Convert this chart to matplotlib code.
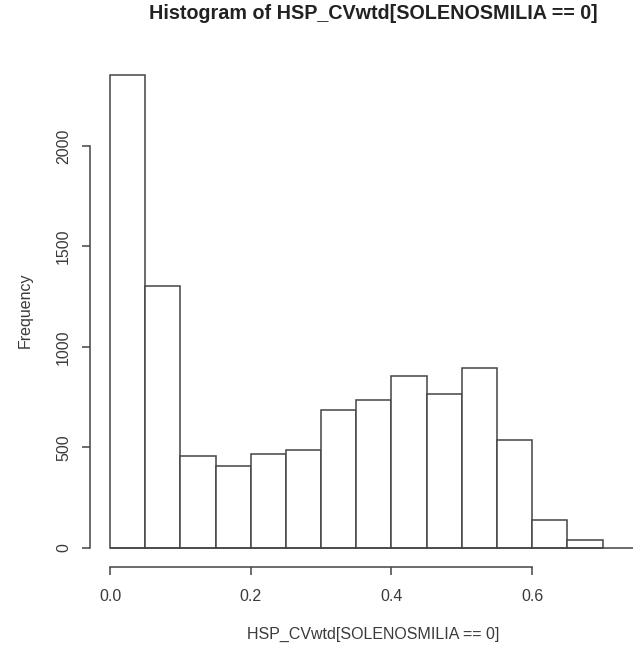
import numpy as np
import matplotlib
matplotlib.use("Agg")
import matplotlib.pyplot as plt

plt.rcParams['font.family'] = ['Liberation Sans', 'DejaVu Sans']

# Histogram bins (width 0.05) and counts per bin
bin_edges = [0.00, 0.05, 0.10, 0.15, 0.20, 0.25, 0.30, 0.35,
             0.40, 0.45, 0.50, 0.55, 0.60, 0.65, 0.70]
counts = [2355, 1303, 458, 406, 466, 488, 685, 734,
          857, 766, 895, 539, 139, 40]
x_ticks = [0.0, 0.2, 0.4, 0.6]
x_tick_labels = ["0.0", "0.2", "0.4", "0.6"]
y_ticks = [0, 500, 1000, 1500, 2000]
y_tick_labels = ["0", "500", "1000", "1500", "2000"]

title = "Histogram of HSP_CVwtd[SOLENOSMILIA == 0]"
xlabel = "HSP_CVwtd[SOLENOSMILIA == 0]"
ylabel = "Frequency"

line_col = "#444444"
text_col = "#3a3a3a"

fig = plt.figure(figsize=(6.33, 6.5), dpi=100)
ax = fig.add_axes([0.1427, 0.1277, 0.8937, 0.7897])

edges = np.array(bin_edges)
widths = np.diff(edges)
ax.bar(edges[:-1], counts, width=widths, align='edge',
       facecolor='white', edgecolor=line_col, linewidth=1.1, zorder=2)

ax.set_xlim(-0.028, 0.776)
ax.set_ylim(-94.6, 2459)

# baseline under the bars running to the right edge of the plot
ax.plot([edges[0], ax.get_xlim()[1]], [0, 0], color=line_col,
        linewidth=1.1, zorder=3, solid_capstyle='butt')

for side in ['top', 'right']:
    ax.spines[side].set_visible(False)
ax.spines['left'].set_bounds(y_ticks[0], y_ticks[-1])
ax.spines['bottom'].set_bounds(x_ticks[0], x_ticks[-1])
for side in ['left', 'bottom']:
    ax.spines[side].set_color(line_col)
    ax.spines[side].set_linewidth(1.1)

ax.set_xticks(x_ticks)
ax.set_xticklabels(x_tick_labels)
ax.set_yticks(y_ticks)
ax.set_yticklabels(y_tick_labels, rotation=90, va='center')
ax.tick_params(axis='both', length=6, width=1.1, color=line_col,
               labelcolor=text_col, labelsize=11.5)
ax.tick_params(axis='x', pad=9.5)
ax.tick_params(axis='y', pad=8)

ax.set_title(title, fontsize=14.2, fontweight='bold', color='#222222', pad=25)
ax.set_xlabel(xlabel, fontsize=11.5, color=text_col, labelpad=17)
ax.set_ylabel(ylabel, fontsize=11.5, color=text_col, labelpad=17)

fig.savefig("out.png", dpi=100, facecolor='white')
